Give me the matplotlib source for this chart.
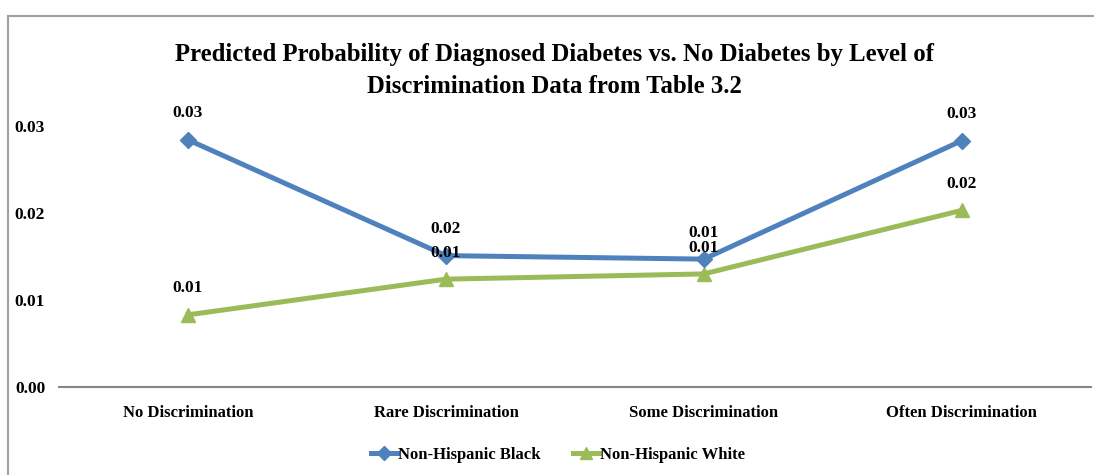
import matplotlib
matplotlib.use("Agg")
import matplotlib.pyplot as plt
from matplotlib.lines import Line2D

plt.rcParams["font.family"] = ["Liberation Serif", "DejaVu Serif"]
plt.rcParams["font.weight"] = "bold"

categories = ["No Discrimination", "Rare Discrimination",
              "Some Discrimination", "Often Discrimination"]
black_vals = [0.0284, 0.0151, 0.0147, 0.0283]
white_vals = [0.0083, 0.0124, 0.0130, 0.0203]
y_ticks = [0.00, 0.01, 0.02, 0.03]

BLUE = "#4f81bd"
GREEN = "#9bbb59"

fig = plt.figure(figsize=(10.94, 4.75), dpi=100)
ax = fig.add_axes([0.054, 0.185, 0.943, 0.55])

x = list(range(len(categories)))
ax.plot(x, black_vals, color=BLUE, lw=3.6, marker="D", ms=8, mec=BLUE,
        solid_joinstyle="round", label="Non-Hispanic Black", zorder=3)
ax.plot(x, white_vals, color=GREEN, lw=3.6, marker="^", ms=10, mec=GREEN,
        solid_joinstyle="round", label="Non-Hispanic White", zorder=2)

for vals in [black_vals, white_vals]:
    for xi, v in zip(x, vals):
        ax.annotate(f"{v:.2f}", (xi, v), xytext=(0, 19), textcoords="offset points",
                    ha="center", va="center", fontsize=12.5, fontweight="bold")

ax.set_xlim(-0.5, len(categories) - 0.5)
ax.set_ylim(0, 0.03)
ax.set_xticks(x)
ax.set_xticklabels(categories, fontsize=12, fontweight="bold")
ax.set_yticks(y_ticks)
ax.set_yticklabels([f"{t:.2f}" for t in y_ticks], fontsize=12.5, fontweight="bold")
ax.tick_params(axis="both", length=0)
ax.tick_params(axis="x", pad=13)
ax.tick_params(axis="y", pad=10)
for s in ["top", "right", "left"]:
    ax.spines[s].set_visible(False)
ax.spines["bottom"].set_color("#868686")
ax.spines["bottom"].set_linewidth(1.5)

fig.text(0.507, 0.851, "Predicted Probability of Diagnosed Diabetes vs. No Diabetes by Level of\n"
         "Discrimination Data from Table 3.2", ha="center", va="center",
         fontsize=17.8, fontweight="bold", linespacing=1.5)

handles = [Line2D([], [], color=BLUE, lw=3.6, marker="D", ms=7),
           Line2D([], [], color=GREEN, lw=3.6, marker="^", ms=9)]
fig.legend(handles, ["Non-Hispanic Black", "Non-Hispanic White"], loc="center",
           bbox_to_anchor=(0.51, 0.043), ncol=2, frameon=False, fontsize=12,
           handlelength=1.6, handletextpad=0.05, columnspacing=1.9)

# chart area border (top and left visible)
fig.add_artist(Line2D([8 / 1094, 1], [1 - 16 / 475, 1 - 16 / 475], color="#a0a0a0", lw=1.5,
                      transform=fig.transFigure))
fig.add_artist(Line2D([8 / 1094, 8 / 1094], [0, 1 - 16 / 475], color="#a0a0a0", lw=1.5,
                      transform=fig.transFigure))

fig.savefig("out.png", dpi=100, facecolor="white")
